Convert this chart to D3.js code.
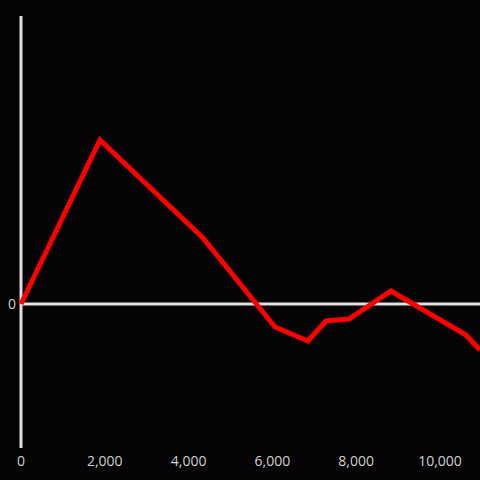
<!DOCTYPE html>
<html><head><meta charset="utf-8">
<script src="https://cdn.jsdelivr.net/npm/d3@7"></script>
<style>html,body{margin:0;padding:0;background:#050305;}svg{display:block;}</style>
</head><body>
<script>
const xValues = [0, 1885, 4344, 6062, 6850, 7279, 7828, 8831, 10620, 10955];
const yValues = [0, 164, 66, -23, -37, -17, -15, 13, -31, -46];
const xTicks = [0, 2000, 4000, 6000, 8000, 10000];
const yTicks = [0];

const W = 480, H = 480;
const svg = d3.select("body").append("svg").attr("width", W).attr("height", H)
  .style("background", "#050305");
svg.append("rect").attr("width", W).attr("height", H).attr("fill", "#050305");

const x = d3.scaleLinear().domain([0, 10000]).range([21, 440]);
const y = d3.scaleLinear().domain([-144, 288]).range([448, 16]);

const fmt = d3.format(",");
// x tick labels
svg.append("g").selectAll("text").data(xTicks).join("text")
  .attr("x", d => x(d)).attr("y", 466)
  .attr("text-anchor", "middle")
  .attr("fill", "#cfcfcf")
  .style("font-family", "'Open Sans', sans-serif").style("font-size", "14px")
  .text(d => fmt(d));
// y tick label
svg.append("g").selectAll("text").data(yTicks).join("text")
  .attr("x", 16).attr("y", d => y(d) + 5)
  .attr("text-anchor", "end")
  .attr("fill", "#cfcfcf")
  .style("font-family", "'Open Sans', sans-serif").style("font-size", "14px")
  .text(d => fmt(d));

// vertical axis line
svg.append("line").attr("x1", x(0)).attr("x2", x(0)).attr("y1", 16).attr("y2", 448)
  .attr("stroke", "#e0e0e0").attr("stroke-width", 3);
// zero line
svg.append("line").attr("x1", x(0)).attr("x2", W).attr("y1", y(0)).attr("y2", y(0))
  .attr("stroke", "#e0e0e0").attr("stroke-width", 3);

const data = xValues.map((v, i) => [v, yValues[i]]);
svg.append("path").datum(data)
  .attr("fill", "none").attr("stroke", "#ff0000").attr("stroke-width", 5)
  .attr("stroke-linejoin", "miter").attr("stroke-linecap", "butt")
  .attr("d", d3.line().x(d => x(d[0])).y(d => y(d[1])));
</script>
</body></html>
